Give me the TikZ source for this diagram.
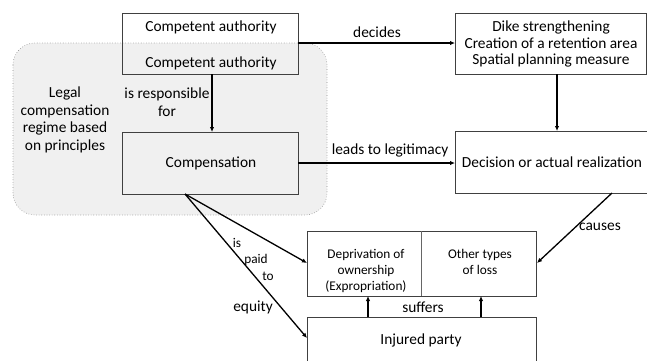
\documentclass[tikz,border=0pt]{standalone}
\usepackage{fontspec}
\setmainfont{Carlito}
\usetikzlibrary{arrows.meta}
\tikzset{
  box/.style={draw=black!75, line width=0.7pt},
  conn/.style={draw=black, line width=1.3pt, -{Latex[length=5pt,width=4.5pt]}},
  lbl/.style={font=\fontsize{15.4}{18}\selectfont, inner sep=0pt},
  slbl/.style={font=\fontsize{13.3}{15}\selectfont, inner sep=0pt},
}
\begin{document}
\begin{tikzpicture}[x=1pt,y=-1pt]
\useasboundingbox (0,0) rectangle (647,360);
\fill[white] (0,0) rectangle (647,360);
% region
\draw[fill=black!6, draw=black!45, dotted, line width=0.6pt, rounded corners=22pt] (13,43) rectangle (327,215);
\node[lbl, align=center] (legal) at (65,120) {Legal\\[-0.5pt]compensation\\[-0.5pt]regime based\\[-0.5pt]on principles};
% boxes
\draw[box] (122,13) rectangle (298,74);
\node[lbl] (ca1) at (211,27) {Competent authority};
\node[lbl] (ca2) at (211,63) {Competent authority};
\coordinate (caS) at (212,74);
\coordinate (caE) at (298,43);
\draw[box] (122,132) rectangle (298,194);
\node[lbl] (comp) at (211,163) {Compensation};
\coordinate (compN) at (212,132);
\coordinate (compE) at (298,163);
\coordinate (compS) at (185,194);
\draw[box] (455,13) rectangle (646,74);
\node[lbl, align=center] (dike) at (551,44) {Dike strengthening\\[-1.5pt]Creation of a retention area\\[-1.5pt]Spatial planning measure};
\coordinate (dikeW) at (455,43);
\coordinate (dikeS) at (557,74);
\draw[box] (455,131) rectangle (652,193);
\node[lbl] (dec) at (552,162) {Decision or actual realization};
\coordinate (decN) at (557,131);
\coordinate (decW) at (455,163);
\coordinate (decS) at (612,193);
\draw[box] (307,231) rectangle (536,296);
\draw[black!60, line width=0.5pt] (421,231) -- (421,296);
\node[slbl, align=center] (dep) at (366,271) {Deprivation of\\[1pt]ownership\\[1pt](Expropriation)};
\node[slbl, align=center] (oth) at (480,262) {Other types\\[1pt]of loss};
\coordinate (depW) at (307,263);
\coordinate (othE) at (537,263);
\coordinate (depS1) at (368,296);
\coordinate (depS2) at (481,296);
\draw[box] (307,317) rectangle (536,370);
\node[lbl] (inj) at (421,340) {Injured party};
\coordinate (injW) at (307,338);
\coordinate (injN1) at (368,317);
\coordinate (injN2) at (481,317);
% connectors
\draw[conn] (caS) -- (compN);
\draw[conn] (caE) -- (dikeW);
\draw[conn] (dikeS) -- (decN);
\draw[conn] (compE) -- (decW);
\draw[conn] (decS) -- (othE);
\draw[conn] (compS) -- (depW);
\draw[conn] (compS) -- (injW);
\draw[conn] (injN1) -- (depS1);
\draw[conn] (injN2) -- (depS2);
% labels
\node[lbl, align=center] (resp) at (167,102) {is responsible\\[-0.5pt]for};
\node[lbl] (decides) at (377,32) {decides};
\node[lbl] (leads) at (390,150) {leads to legitimacy};
\node[lbl] (causes) at (600,227) {causes};
\node[slbl] (is) at (237,243) {is};
\node[slbl] (paid) at (256,260) {paid};
\node[slbl] (to) at (268,276) {to};
\node[lbl] (equity) at (253,307) {equity};
\node[lbl] (suffers) at (423,307) {suffers};
\end{tikzpicture}
\end{document}
